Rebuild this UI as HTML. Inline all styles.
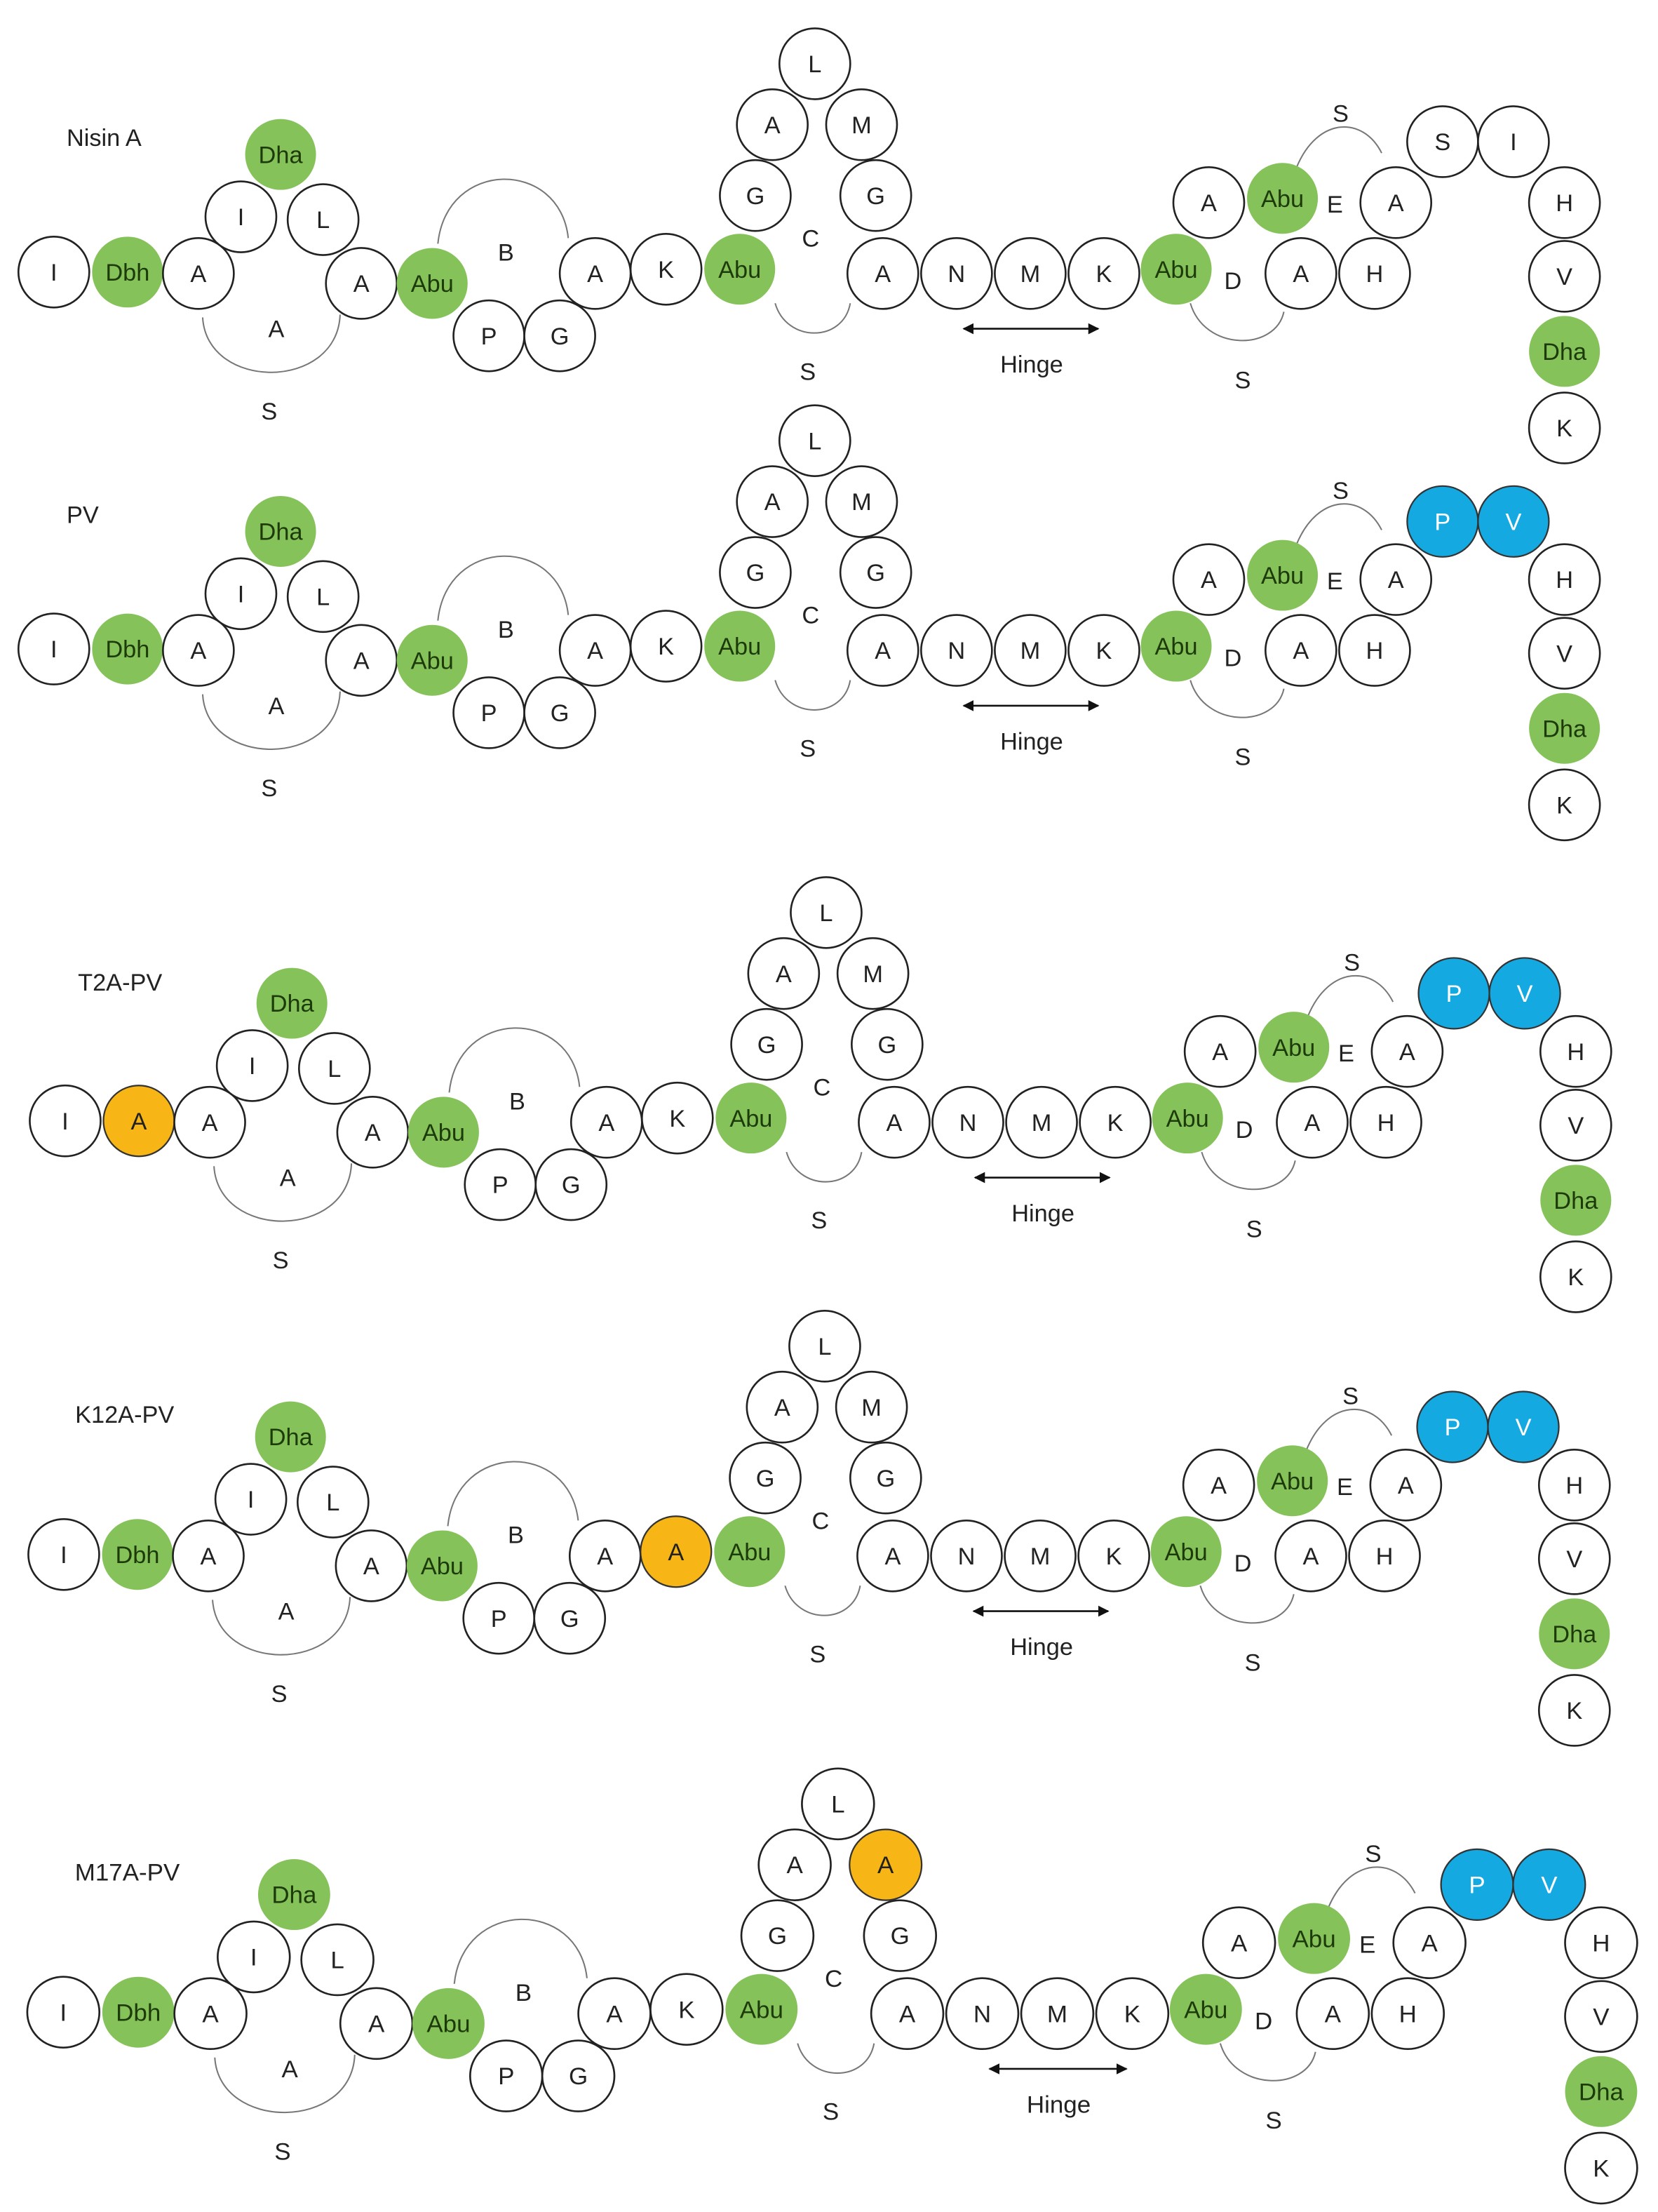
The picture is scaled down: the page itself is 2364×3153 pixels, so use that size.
<!DOCTYPE html>
<html><head><meta charset="utf-8"><style>
html,body{margin:0;padding:0;background:#fff}
svg{display:block}
.w{fill:#fff;stroke:#222;stroke-width:1.3}
.g{fill:#86c25a;stroke:none}
.o{fill:#f7b516;stroke:#333;stroke-width:1.1}
.b{fill:#15a9e2;stroke:#333;stroke-width:1.1}
.ar{fill:none;stroke:#777;stroke-width:1}
text{font-family:"Liberation Sans",sans-serif;font-size:17px;text-anchor:middle;fill:#222}
.gt{fill:#1d3a0b}
.bt{fill:#fff}
.lb{text-anchor:start;font-size:17px}
</style></head><body>
<svg width="2364" height="3153" viewBox="0 0 1170 1561" preserveAspectRatio="none" xmlns="http://www.w3.org/2000/svg">
<defs><marker id="ah" viewBox="0 0 10 10" refX="9" refY="5" markerWidth="6" markerHeight="6" orient="auto-start-reverse"><path d="M0,0L10,5L0,10z" fill="#111"/></marker></defs>

<!-- Panel 1 Nisin A -->
<g transform="translate(0,0)">
<text class="lb" x="47" y="103">Nisin A</text>
<path class="ar" d="M143,224 C146,276 238,276 240,222"/>
<path class="ar" d="M309,172 C315,112 395,112 401,168"/>
<path class="ar" d="M547,214 C555,242 595,242 600,214"/>
<path class="ar" d="M840,214 C850,248 900,248 906,220"/>
<path class="ar" d="M915,118 C930,82 962,82 975,108"/>
<line x1="680" y1="232" x2="775" y2="232" stroke="#111" stroke-width="1.3" marker-start="url(#ah)" marker-end="url(#ah)"/>
<circle class="w" cx="38" cy="192" r="25"/><text x="38" y="198">I</text>
<circle class="g" cx="90" cy="192" r="25"/><text class="gt" x="90" y="198">Dbh</text>
<circle class="w" cx="140" cy="193" r="25"/><text x="140" y="199">A</text>
<circle class="w" cx="170" cy="153" r="25"/><text x="170" y="159">I</text>
<circle class="g" cx="198" cy="109" r="25"/><text class="gt" x="198" y="115">Dha</text>
<circle class="w" cx="228" cy="155" r="25"/><text x="228" y="161">L</text>
<circle class="w" cx="255" cy="200" r="25"/><text x="255" y="206">A</text>
<circle class="g" cx="305" cy="200" r="25"/><text class="gt" x="305" y="206">Abu</text>
<circle class="w" cx="345" cy="237" r="25"/><text x="345" y="243">P</text>
<circle class="w" cx="395" cy="237" r="25"/><text x="395" y="243">G</text>
<circle class="w" cx="420" cy="193" r="25"/><text x="420" y="199">A</text>
<circle class="w" cx="470" cy="190" r="25"/><text x="470" y="196">K</text>
<circle class="g" cx="522" cy="190" r="25"/><text class="gt" x="522" y="196">Abu</text>
<circle class="w" cx="533" cy="138" r="25"/><text x="533" y="144">G</text>
<circle class="w" cx="545" cy="88" r="25"/><text x="545" y="94">A</text>
<circle class="w" cx="575" cy="45" r="25"/><text x="575" y="51">L</text>
<circle class="w" cx="608" cy="88" r="25"/><text x="608" y="94">M</text>
<circle class="w" cx="618" cy="138" r="25"/><text x="618" y="144">G</text>
<circle class="w" cx="623" cy="193" r="25"/><text x="623" y="199">A</text>
<circle class="w" cx="675" cy="193" r="25"/><text x="675" y="199">N</text>
<circle class="w" cx="727" cy="193" r="25"/><text x="727" y="199">M</text>
<circle class="w" cx="779" cy="193" r="25"/><text x="779" y="199">K</text>
<circle class="g" cx="830" cy="190" r="25"/><text class="gt" x="830" y="196">Abu</text>
<circle class="w" cx="853" cy="143" r="25"/><text x="853" y="149">A</text>
<circle class="g" cx="905" cy="140" r="25"/><text class="gt" x="905" y="146">Abu</text>
<circle class="w" cx="985" cy="143" r="25"/><text x="985" y="149">A</text>
<circle class="w" cx="918" cy="193" r="25"/><text x="918" y="199">A</text>
<circle class="w" cx="970" cy="193" r="25"/><text x="970" y="199">H</text>
<circle class="w" cx="1018" cy="100" r="25"/><text x="1018" y="106">S</text>
<circle class="w" cx="1068" cy="100" r="25"/><text x="1068" y="106">I</text>
<circle class="w" cx="1104" cy="143" r="25"/><text x="1104" y="149">H</text>
<circle class="w" cx="1104" cy="195" r="25"/><text x="1104" y="201">V</text>
<circle class="g" cx="1104" cy="248" r="25"/><text class="gt" x="1104" y="254">Dha</text>
<circle class="w" cx="1104" cy="302" r="25"/><text x="1104" y="308">K</text>
<text x="357" y="184">B</text><text x="195" y="238">A</text><text x="190" y="296">S</text>
<text x="572" y="174">C</text><text x="570" y="268">S</text><text x="728" y="263">Hinge</text>
<text x="870" y="204">D</text><text x="942" y="150">E</text><text x="877" y="274">S</text><text x="946" y="86">S</text>
</g>

<!-- Panel 2 PV -->
<g transform="translate(0,266)">
<text class="lb" x="47" y="103">PV</text>
<path class="ar" d="M143,224 C146,276 238,276 240,222"/>
<path class="ar" d="M309,172 C315,112 395,112 401,168"/>
<path class="ar" d="M547,214 C555,242 595,242 600,214"/>
<path class="ar" d="M840,214 C850,248 900,248 906,220"/>
<path class="ar" d="M915,118 C930,82 962,82 975,108"/>
<line x1="680" y1="232" x2="775" y2="232" stroke="#111" stroke-width="1.3" marker-start="url(#ah)" marker-end="url(#ah)"/>
<circle class="w" cx="38" cy="192" r="25"/><text x="38" y="198">I</text>
<circle class="g" cx="90" cy="192" r="25"/><text class="gt" x="90" y="198">Dbh</text>
<circle class="w" cx="140" cy="193" r="25"/><text x="140" y="199">A</text>
<circle class="w" cx="170" cy="153" r="25"/><text x="170" y="159">I</text>
<circle class="g" cx="198" cy="109" r="25"/><text class="gt" x="198" y="115">Dha</text>
<circle class="w" cx="228" cy="155" r="25"/><text x="228" y="161">L</text>
<circle class="w" cx="255" cy="200" r="25"/><text x="255" y="206">A</text>
<circle class="g" cx="305" cy="200" r="25"/><text class="gt" x="305" y="206">Abu</text>
<circle class="w" cx="345" cy="237" r="25"/><text x="345" y="243">P</text>
<circle class="w" cx="395" cy="237" r="25"/><text x="395" y="243">G</text>
<circle class="w" cx="420" cy="193" r="25"/><text x="420" y="199">A</text>
<circle class="w" cx="470" cy="190" r="25"/><text x="470" y="196">K</text>
<circle class="g" cx="522" cy="190" r="25"/><text class="gt" x="522" y="196">Abu</text>
<circle class="w" cx="533" cy="138" r="25"/><text x="533" y="144">G</text>
<circle class="w" cx="545" cy="88" r="25"/><text x="545" y="94">A</text>
<circle class="w" cx="575" cy="45" r="25"/><text x="575" y="51">L</text>
<circle class="w" cx="608" cy="88" r="25"/><text x="608" y="94">M</text>
<circle class="w" cx="618" cy="138" r="25"/><text x="618" y="144">G</text>
<circle class="w" cx="623" cy="193" r="25"/><text x="623" y="199">A</text>
<circle class="w" cx="675" cy="193" r="25"/><text x="675" y="199">N</text>
<circle class="w" cx="727" cy="193" r="25"/><text x="727" y="199">M</text>
<circle class="w" cx="779" cy="193" r="25"/><text x="779" y="199">K</text>
<circle class="g" cx="830" cy="190" r="25"/><text class="gt" x="830" y="196">Abu</text>
<circle class="w" cx="853" cy="143" r="25"/><text x="853" y="149">A</text>
<circle class="g" cx="905" cy="140" r="25"/><text class="gt" x="905" y="146">Abu</text>
<circle class="w" cx="985" cy="143" r="25"/><text x="985" y="149">A</text>
<circle class="w" cx="918" cy="193" r="25"/><text x="918" y="199">A</text>
<circle class="w" cx="970" cy="193" r="25"/><text x="970" y="199">H</text>
<circle class="b" cx="1018" cy="102" r="25"/><text class="bt" x="1018" y="108">P</text>
<circle class="b" cx="1068" cy="102" r="25"/><text class="bt" x="1068" y="108">V</text>
<circle class="w" cx="1104" cy="143" r="25"/><text x="1104" y="149">H</text>
<circle class="w" cx="1104" cy="195" r="25"/><text x="1104" y="201">V</text>
<circle class="g" cx="1104" cy="248" r="25"/><text class="gt" x="1104" y="254">Dha</text>
<circle class="w" cx="1104" cy="302" r="25"/><text x="1104" y="308">K</text>
<text x="357" y="184">B</text><text x="195" y="238">A</text><text x="190" y="296">S</text>
<text x="572" y="174">C</text><text x="570" y="268">S</text><text x="728" y="263">Hinge</text>
<text x="870" y="204">D</text><text x="942" y="150">E</text><text x="877" y="274">S</text><text x="946" y="86">S</text>
</g>

<!-- Panel 3 T2A-PV -->
<g transform="translate(8,599)">
<text class="lb" x="47" y="100">T2A-PV</text>
<path class="ar" d="M143,224 C146,276 238,276 240,222"/>
<path class="ar" d="M309,172 C315,112 395,112 401,168"/>
<path class="ar" d="M547,214 C555,242 595,242 600,214"/>
<path class="ar" d="M840,214 C850,248 900,248 906,220"/>
<path class="ar" d="M915,118 C930,82 962,82 975,108"/>
<line x1="680" y1="232" x2="775" y2="232" stroke="#111" stroke-width="1.3" marker-start="url(#ah)" marker-end="url(#ah)"/>
<circle class="w" cx="38" cy="192" r="25"/><text x="38" y="198">I</text>
<circle class="o" cx="90" cy="192" r="25"/><text x="90" y="198">A</text>
<circle class="w" cx="140" cy="193" r="25"/><text x="140" y="199">A</text>
<circle class="w" cx="170" cy="153" r="25"/><text x="170" y="159">I</text>
<circle class="g" cx="198" cy="109" r="25"/><text class="gt" x="198" y="115">Dha</text>
<circle class="w" cx="228" cy="155" r="25"/><text x="228" y="161">L</text>
<circle class="w" cx="255" cy="200" r="25"/><text x="255" y="206">A</text>
<circle class="g" cx="305" cy="200" r="25"/><text class="gt" x="305" y="206">Abu</text>
<circle class="w" cx="345" cy="237" r="25"/><text x="345" y="243">P</text>
<circle class="w" cx="395" cy="237" r="25"/><text x="395" y="243">G</text>
<circle class="w" cx="420" cy="193" r="25"/><text x="420" y="199">A</text>
<circle class="w" cx="470" cy="190" r="25"/><text x="470" y="196">K</text>
<circle class="g" cx="522" cy="190" r="25"/><text class="gt" x="522" y="196">Abu</text>
<circle class="w" cx="533" cy="138" r="25"/><text x="533" y="144">G</text>
<circle class="w" cx="545" cy="88" r="25"/><text x="545" y="94">A</text>
<circle class="w" cx="575" cy="45" r="25"/><text x="575" y="51">L</text>
<circle class="w" cx="608" cy="88" r="25"/><text x="608" y="94">M</text>
<circle class="w" cx="618" cy="138" r="25"/><text x="618" y="144">G</text>
<circle class="w" cx="623" cy="193" r="25"/><text x="623" y="199">A</text>
<circle class="w" cx="675" cy="193" r="25"/><text x="675" y="199">N</text>
<circle class="w" cx="727" cy="193" r="25"/><text x="727" y="199">M</text>
<circle class="w" cx="779" cy="193" r="25"/><text x="779" y="199">K</text>
<circle class="g" cx="830" cy="190" r="25"/><text class="gt" x="830" y="196">Abu</text>
<circle class="w" cx="853" cy="143" r="25"/><text x="853" y="149">A</text>
<circle class="g" cx="905" cy="140" r="25"/><text class="gt" x="905" y="146">Abu</text>
<circle class="w" cx="985" cy="143" r="25"/><text x="985" y="149">A</text>
<circle class="w" cx="918" cy="193" r="25"/><text x="918" y="199">A</text>
<circle class="w" cx="970" cy="193" r="25"/><text x="970" y="199">H</text>
<circle class="b" cx="1018" cy="102" r="25"/><text class="bt" x="1018" y="108">P</text>
<circle class="b" cx="1068" cy="102" r="25"/><text class="bt" x="1068" y="108">V</text>
<circle class="w" cx="1104" cy="143" r="25"/><text x="1104" y="149">H</text>
<circle class="w" cx="1104" cy="195" r="25"/><text x="1104" y="201">V</text>
<circle class="g" cx="1104" cy="248" r="25"/><text class="gt" x="1104" y="254">Dha</text>
<circle class="w" cx="1104" cy="302" r="25"/><text x="1104" y="308">K</text>
<text x="357" y="184">B</text><text x="195" y="238">A</text><text x="190" y="296">S</text>
<text x="572" y="174">C</text><text x="570" y="268">S</text><text x="728" y="263">Hinge</text>
<text x="870" y="204">D</text><text x="942" y="150">E</text><text x="877" y="274">S</text><text x="946" y="86">S</text>
</g>

<!-- Panel 4 K12A-PV -->
<g transform="translate(7,905)">
<text class="lb" x="46" y="99">K12A-PV</text>
<path class="ar" d="M143,224 C146,276 238,276 240,222"/>
<path class="ar" d="M309,172 C315,112 395,112 401,168"/>
<path class="ar" d="M547,214 C555,242 595,242 600,214"/>
<path class="ar" d="M840,214 C850,248 900,248 906,220"/>
<path class="ar" d="M915,118 C930,82 962,82 975,108"/>
<line x1="680" y1="232" x2="775" y2="232" stroke="#111" stroke-width="1.3" marker-start="url(#ah)" marker-end="url(#ah)"/>
<circle class="w" cx="38" cy="192" r="25"/><text x="38" y="198">I</text>
<circle class="g" cx="90" cy="192" r="25"/><text class="gt" x="90" y="198">Dbh</text>
<circle class="w" cx="140" cy="193" r="25"/><text x="140" y="199">A</text>
<circle class="w" cx="170" cy="153" r="25"/><text x="170" y="159">I</text>
<circle class="g" cx="198" cy="109" r="25"/><text class="gt" x="198" y="115">Dha</text>
<circle class="w" cx="228" cy="155" r="25"/><text x="228" y="161">L</text>
<circle class="w" cx="255" cy="200" r="25"/><text x="255" y="206">A</text>
<circle class="g" cx="305" cy="200" r="25"/><text class="gt" x="305" y="206">Abu</text>
<circle class="w" cx="345" cy="237" r="25"/><text x="345" y="243">P</text>
<circle class="w" cx="395" cy="237" r="25"/><text x="395" y="243">G</text>
<circle class="w" cx="420" cy="193" r="25"/><text x="420" y="199">A</text>
<circle class="o" cx="470" cy="190" r="25"/><text x="470" y="196">A</text>
<circle class="g" cx="522" cy="190" r="25"/><text class="gt" x="522" y="196">Abu</text>
<circle class="w" cx="533" cy="138" r="25"/><text x="533" y="144">G</text>
<circle class="w" cx="545" cy="88" r="25"/><text x="545" y="94">A</text>
<circle class="w" cx="575" cy="45" r="25"/><text x="575" y="51">L</text>
<circle class="w" cx="608" cy="88" r="25"/><text x="608" y="94">M</text>
<circle class="w" cx="618" cy="138" r="25"/><text x="618" y="144">G</text>
<circle class="w" cx="623" cy="193" r="25"/><text x="623" y="199">A</text>
<circle class="w" cx="675" cy="193" r="25"/><text x="675" y="199">N</text>
<circle class="w" cx="727" cy="193" r="25"/><text x="727" y="199">M</text>
<circle class="w" cx="779" cy="193" r="25"/><text x="779" y="199">K</text>
<circle class="g" cx="830" cy="190" r="25"/><text class="gt" x="830" y="196">Abu</text>
<circle class="w" cx="853" cy="143" r="25"/><text x="853" y="149">A</text>
<circle class="g" cx="905" cy="140" r="25"/><text class="gt" x="905" y="146">Abu</text>
<circle class="w" cx="985" cy="143" r="25"/><text x="985" y="149">A</text>
<circle class="w" cx="918" cy="193" r="25"/><text x="918" y="199">A</text>
<circle class="w" cx="970" cy="193" r="25"/><text x="970" y="199">H</text>
<circle class="b" cx="1018" cy="102" r="25"/><text class="bt" x="1018" y="108">P</text>
<circle class="b" cx="1068" cy="102" r="25"/><text class="bt" x="1068" y="108">V</text>
<circle class="w" cx="1104" cy="143" r="25"/><text x="1104" y="149">H</text>
<circle class="w" cx="1104" cy="195" r="25"/><text x="1104" y="201">V</text>
<circle class="g" cx="1104" cy="248" r="25"/><text class="gt" x="1104" y="254">Dha</text>
<circle class="w" cx="1104" cy="302" r="25"/><text x="1104" y="308">K</text>
<text x="357" y="184">B</text><text x="195" y="238">A</text><text x="190" y="296">S</text>
<text x="572" y="174">C</text><text x="570" y="268">S</text><text x="728" y="263">Hinge</text>
<text x="870" y="204">D</text><text x="942" y="150">E</text><text x="877" y="274">S</text><text x="946" y="86">S</text>
</g>

<!-- Panel 5 M17A-PV -->
<g transform="translate(6,1228) scale(1.018,1)">
<text class="lb" x="46" y="99">M17A-PV</text>
<path class="ar" d="M143,224 C146,276 238,276 240,222"/>
<path class="ar" d="M309,172 C315,112 395,112 401,168"/>
<path class="ar" d="M547,214 C555,242 595,242 600,214"/>
<path class="ar" d="M840,214 C850,248 900,248 906,220"/>
<path class="ar" d="M915,118 C930,82 962,82 975,108"/>
<line x1="680" y1="232" x2="775" y2="232" stroke="#111" stroke-width="1.3" marker-start="url(#ah)" marker-end="url(#ah)"/>
<circle class="w" cx="38" cy="192" r="25"/><text x="38" y="198">I</text>
<circle class="g" cx="90" cy="192" r="25"/><text class="gt" x="90" y="198">Dbh</text>
<circle class="w" cx="140" cy="193" r="25"/><text x="140" y="199">A</text>
<circle class="w" cx="170" cy="153" r="25"/><text x="170" y="159">I</text>
<circle class="g" cx="198" cy="109" r="25"/><text class="gt" x="198" y="115">Dha</text>
<circle class="w" cx="228" cy="155" r="25"/><text x="228" y="161">L</text>
<circle class="w" cx="255" cy="200" r="25"/><text x="255" y="206">A</text>
<circle class="g" cx="305" cy="200" r="25"/><text class="gt" x="305" y="206">Abu</text>
<circle class="w" cx="345" cy="237" r="25"/><text x="345" y="243">P</text>
<circle class="w" cx="395" cy="237" r="25"/><text x="395" y="243">G</text>
<circle class="w" cx="420" cy="193" r="25"/><text x="420" y="199">A</text>
<circle class="w" cx="470" cy="190" r="25"/><text x="470" y="196">K</text>
<circle class="g" cx="522" cy="190" r="25"/><text class="gt" x="522" y="196">Abu</text>
<circle class="w" cx="533" cy="138" r="25"/><text x="533" y="144">G</text>
<circle class="w" cx="545" cy="88" r="25"/><text x="545" y="94">A</text>
<circle class="w" cx="575" cy="45" r="25"/><text x="575" y="51">L</text>
<circle class="o" cx="608" cy="88" r="25"/><text x="608" y="94">A</text>
<circle class="w" cx="618" cy="138" r="25"/><text x="618" y="144">G</text>
<circle class="w" cx="623" cy="193" r="25"/><text x="623" y="199">A</text>
<circle class="w" cx="675" cy="193" r="25"/><text x="675" y="199">N</text>
<circle class="w" cx="727" cy="193" r="25"/><text x="727" y="199">M</text>
<circle class="w" cx="779" cy="193" r="25"/><text x="779" y="199">K</text>
<circle class="g" cx="830" cy="190" r="25"/><text class="gt" x="830" y="196">Abu</text>
<circle class="w" cx="853" cy="143" r="25"/><text x="853" y="149">A</text>
<circle class="g" cx="905" cy="140" r="25"/><text class="gt" x="905" y="146">Abu</text>
<circle class="w" cx="985" cy="143" r="25"/><text x="985" y="149">A</text>
<circle class="w" cx="918" cy="193" r="25"/><text x="918" y="199">A</text>
<circle class="w" cx="970" cy="193" r="25"/><text x="970" y="199">H</text>
<circle class="b" cx="1018" cy="102" r="25"/><text class="bt" x="1018" y="108">P</text>
<circle class="b" cx="1068" cy="102" r="25"/><text class="bt" x="1068" y="108">V</text>
<circle class="w" cx="1104" cy="143" r="25"/><text x="1104" y="149">H</text>
<circle class="w" cx="1104" cy="195" r="25"/><text x="1104" y="201">V</text>
<circle class="g" cx="1104" cy="248" r="25"/><text class="gt" x="1104" y="254">Dha</text>
<circle class="w" cx="1104" cy="302" r="25"/><text x="1104" y="308">K</text>
<text x="357" y="184">B</text><text x="195" y="238">A</text><text x="190" y="296">S</text>
<text x="572" y="174">C</text><text x="570" y="268">S</text><text x="728" y="263">Hinge</text>
<text x="870" y="204">D</text><text x="942" y="150">E</text><text x="877" y="274">S</text><text x="946" y="86">S</text>
</g>
</svg>
</body></html>
